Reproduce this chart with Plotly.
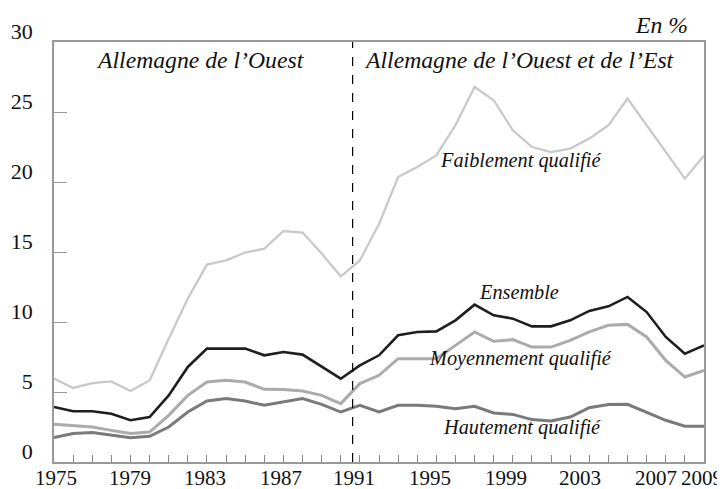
import plotly.graph_objects as go

years = list(range(1975, 2010))

ensemble = [3.93, 3.62, 3.62, 3.45, 2.98, 3.21, 4.76, 6.79, 8.10, 8.10, 8.10, 7.62, 7.86, 7.67, 6.83, 5.95,
            6.90, 7.62, 9.05, 9.29, 9.33, 10.12, 11.24, 10.48, 10.24, 9.69, 9.69, 10.12, 10.79, 11.12, 11.79,
            10.71, 8.93, 7.74, 8.33]
moyen = [2.69, 2.62, 2.50, 2.26, 2.03, 2.14, 3.33, 4.76, 5.71, 5.83, 5.71, 5.19, 5.17, 5.07, 4.76, 4.17,
         5.60, 6.19, 7.38, 7.38, 7.38, 8.33, 9.29, 8.62, 8.74, 8.21, 8.21, 8.69, 9.29, 9.76, 9.83,
         8.93, 7.26, 6.07, 6.55]
haut = [1.74, 2.03, 2.10, 1.91, 1.74, 1.84, 2.50, 3.57, 4.36, 4.53, 4.36, 4.05, 4.29, 4.53, 4.12, 3.57,
        4.05, 3.57, 4.05, 4.05, 3.98, 3.81, 3.98, 3.50, 3.40, 3.03, 2.93, 3.21, 3.88, 4.10, 4.12,
        3.57, 2.98, 2.55, 2.55]
faible = [5.96, 5.29, 5.64, 5.76, 5.07, 5.83, 8.81, 11.67, 14.10, 14.40, 14.96, 15.24, 16.50, 16.39, 14.89, 13.26,
          14.40, 17.00, 20.36, 21.07, 21.90, 24.05, 26.79, 25.84, 23.69, 22.50, 22.14, 22.39, 23.10, 24.05, 25.96,
          24.05, 22.14, 20.24, 21.90]

x_label_years = [1975, 1979, 1983, 1987, 1991, 1995, 1999, 2003, 2007, 2009]
y_ticks = [0, 5, 10, 15, 20, 25, 30]
split_year = 1990.62

series = [
    ("Faiblement qualifié", faible, "#c9c9c9", 2.3),
    ("Hautement qualifié", haut, "#7a7a7a", 3.0),
    ("Moyennement qualifié", moyen, "#ababab", 3.0),
    ("Ensemble", ensemble, "#1e1e1e", 2.6),
]

fig = go.Figure()
for name, vals, col, w in series:
    fig.add_trace(go.Scatter(x=years, y=vals, mode="lines", name=name,
                             line=dict(color=col, width=w), showlegend=False))

fig.add_shape(type="line", x0=split_year, x1=split_year, y0=0, y1=30, xref="x", yref="y",
              line=dict(color="black", width=1.2, dash="dash"))

serif = "Liberation Serif, Times New Roman, serif"
head_font = dict(family=serif, size=23.7, color="#111")
lab_font = dict(family=serif, size=20.3, color="#111")

headers = [
    ("Allemagne de l\u2019Ouest", 1982.64, 28.69),
    ("Allemagne de l\u2019Ouest et de l\u2019Est", 1999.37, 28.69),
]
labels = [
    ("Faiblement qualifié", 1999.42, 21.55),
    ("Ensemble", 1999.32, 12.14),
    ("Moyennement qualifié", 1999.42, 7.41),
    ("Hautement qualifié", 1999.48, 2.5),
]
for text, xv, yv in headers:
    fig.add_annotation(x=xv, y=yv, xref="x", yref="y", text="<i>%s</i>" % text, showarrow=False,
                       font=head_font, xanchor="center", yanchor="middle")
for text, xv, yv in labels:
    fig.add_annotation(x=xv, y=yv, xref="x", yref="y", text="<i>%s</i>" % text, showarrow=False,
                       font=lab_font, xanchor="center", yanchor="middle")
fig.add_annotation(x=0.978, y=1.040, xref="paper", yref="paper", text="<i>En %</i>", showarrow=False,
                   font=head_font, xanchor="right", yanchor="middle")

# x-axis year labels as text under the axis (small offsets as in the original print)
tick_font = dict(family=serif, size=21, color="#111")
nudge = {1975: 2, 1979: 0, 1983: -2, 1987: -2, 1991: -6, 1995: -6.5, 1999: -7, 2003: -9, 2007: -10, 2009: -2.5}
for yr in x_label_years:
    fig.add_annotation(x=yr, y=0, xref="x", yref="paper", text=str(yr), showarrow=False,
                       font=tick_font, xanchor="center", yanchor="middle",
                       xshift=nudge.get(yr, 0), yshift=-15.5)

# page body has an 8px margin: size the figure so it fits the 725x489 window
fig.update_layout(
    width=717, height=481,
    margin=dict(l=46, r=21, t=34, b=27),
    paper_bgcolor="white", plot_bgcolor="white",
    font=dict(family=serif, size=22, color="#111"),
)
fig.update_xaxes(
    range=[1975, 2009], tickmode="array", tickvals=years, showticklabels=False,
    automargin=False,
    ticks="inside", ticklen=7, tickcolor="#888", tickwidth=1,
    showline=True, linecolor="#999", linewidth=1.5, mirror=True,
    showgrid=False, zeroline=False,
)
fig.update_yaxes(
    range=[0, 30], tickmode="array", tickvals=y_ticks, automargin=False,
    ticks="inside", ticklen=13, tickcolor="#999", tickwidth=1,
    showline=True, linecolor="#999", linewidth=1.5, mirror=True,
    showgrid=False, zeroline=False, ticklabelshift=-11, ticklabelstandoff=15,
)

fig.write_html("out.html")
